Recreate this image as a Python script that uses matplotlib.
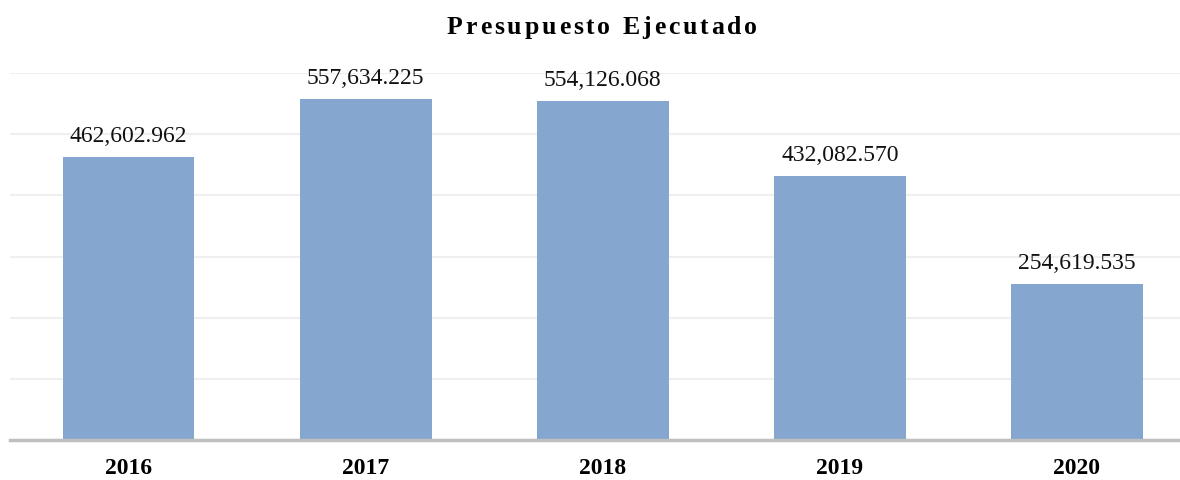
import matplotlib
matplotlib.use('Agg')
import matplotlib.pyplot as plt
from matplotlib.font_manager import FontProperties, findfont, get_font
import numpy as np

plt.rcParams['font.family'] = ['Liberation Serif', 'DejaVu Serif']

# datos
years = ['2016', '2017', '2018', '2019', '2020']
ejecutado = [462602.962, 557634.225, 554126.068, 432082.570, 254619.535]
etiquetas = ['462,602.962', '557,634.225', '554,126.068', '432,082.570', '254,619.535']
titulo = 'Presupuesto Ejecutado'

fig = plt.figure(figsize=(11.8, 4.81), dpi=100)
ax = fig.add_axes([10/1180, 40/481, 1170/1180, 367/481])

x = np.arange(len(years))
ax.bar(x, ejecutado, width=0.556, color='#84a6cf', zorder=2)

for xi, v, t in zip(x, ejecutado, etiquetas):
    ax.annotate(t, (xi, v), xytext=(0, 11), textcoords='offset pixels',
                ha='center', va='bottom', fontsize=17, color='#111111')

ax.set_xlim(-0.5, 4.435)
ax.set_ylim(0, 600000)
ax.set_yticks(np.arange(0, 600001, 100000))
ax.yaxis.grid(True, color='#efefef', linewidth=1.5, zorder=0)
ax.set_axisbelow(True)
ax.tick_params(axis='y', left=False, labelleft=False)
ax.tick_params(axis='x', bottom=False, pad=9)
ax.set_xticks(x)
ax.set_xticklabels(years, fontsize=17, fontweight='bold')

for s in ['top', 'right', 'left']:
    ax.spines[s].set_visible(False)
ax.spines['bottom'].set_color('#bfbfbf')
ax.spines['bottom'].set_linewidth(2.5)
ax.spines['bottom'].set_zorder(3)

# titulo con espaciado entre letras (avance de cada glifo + 3 px)
fs_tit = 18.5
fp = FontProperties(family='Liberation Serif', weight='bold')
fuente = get_font(findfont(fp))
fuente.set_size(fs_tit, 100)
espacio = 2.9
avances = []
for ch in titulo:
    g = fuente.load_char(ord(ch))
    avances.append(g.linearHoriAdvance / 65536)
total = sum(avances) + espacio * (len(titulo) - 1)
xp = 602 - total / 2
for ch, w in zip(titulo, avances):
    if ch != ' ':
        fig.text(xp / 1180, 1 - 34 / 481, ch, ha='left', va='baseline',
                 fontsize=fs_tit, fontweight='bold', family='Liberation Serif')
    xp += w + espacio

fig.savefig('out.png', dpi=100)
